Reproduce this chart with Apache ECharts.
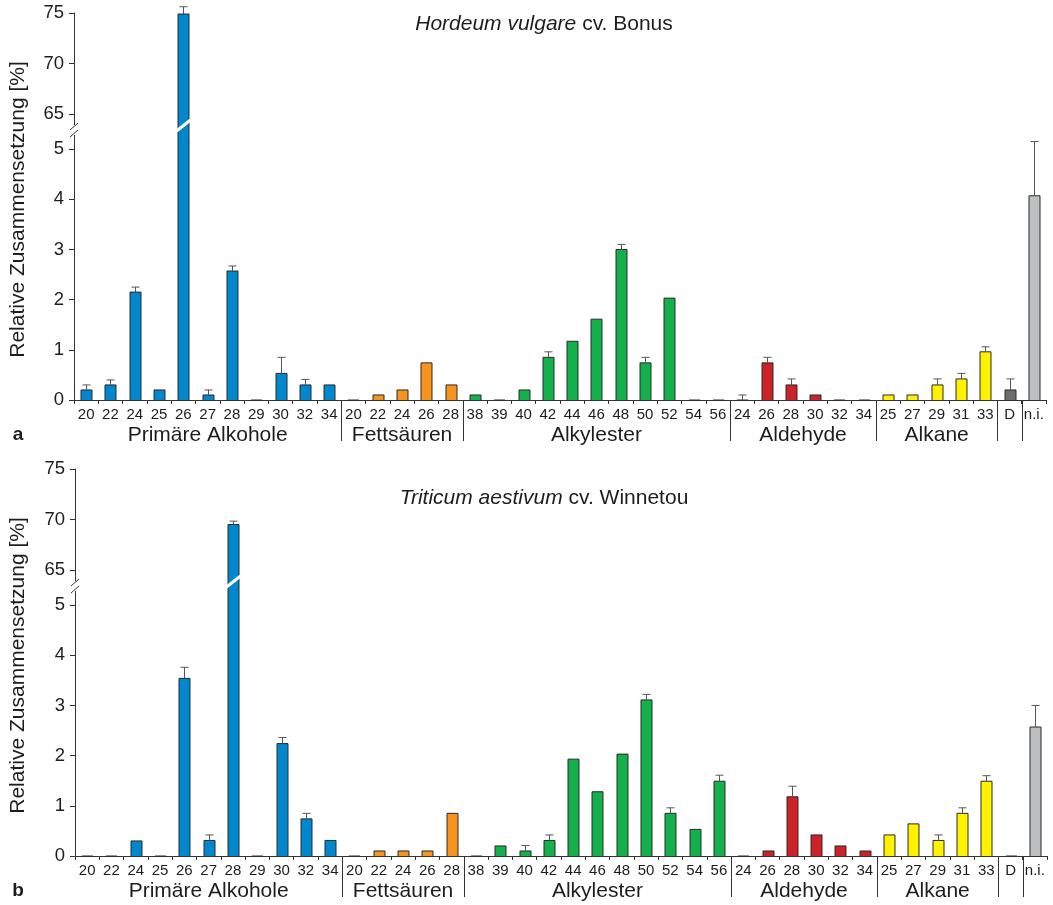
<!DOCTYPE html>
<html><head><meta charset="utf-8">
<script src="https://cdn.jsdelivr.net/npm/echarts@6/dist/echarts.min.js"></script>
<style>html,body{margin:0;padding:0;background:#fff}#c{width:1053px;height:905px}</style>
</head><body><div id="c"></div>
<script>
// ---------- data ----------
const categories = ['20','22','24','25','26','27','28','29','30','32','34',
  '20','22','24','26','28',
  '38','39','40','42','44','46','48','50','52','54','56',
  '24','26','28','30','32','34',
  '25','27','29','31','33',
  'D','n.i.'];
const groupNames = ['Primäre Alkohole','Fettsäuren','Alkylester','Aldehyde','Alkane','',''];
const groupSizes = [11,5,11,6,5,1,1];

const valuesA = [0.2,0.3,2.15,0.2,74.9,0.1,2.57,0,0.53,0.3,0.3,
  0,0.1,0.2,0.74,0.3,
  0.1,0,0.2,0.85,1.17,1.61,3.0,0.74,2.03,0,0,
  0,0.74,0.3,0.1,0,0,
  0.1,0.1,0.3,0.42,0.96,
  0.2,4.07];
const errorsA = [0.1,0.1,0.1,0,0.72,0.1,0.1,0,0.32,0.11,0,
  0,0,0,0,0,
  0,0,0,0.11,0,0,0.1,0.11,0,0,0,
  0.1,0.11,0.12,0,0,0,
  0,0,0.12,0.11,0.1,
  0.22,1.08];
const valuesB = [0,0,0.3,0,3.54,0.31,69.5,0,2.24,0.74,0.31,
  0,0.1,0.1,0.1,0.85,
  0,0.2,0.1,0.31,1.93,1.28,2.03,3.11,0.85,0.53,1.49,
  0,0.1,1.18,0.42,0.2,0.1,
  0.42,0.64,0.31,0.85,1.49,
  0,2.57];
const errorsB = [0,0,0,0,0.22,0.11,0.33,0,0.12,0.11,0,
  0,0,0,0,0,
  0,0,0.11,0.11,0,0,0,0.11,0.11,0,0.12,
  0,0,0.21,0,0,0,
  0,0,0.11,0.11,0.11,
  0,0.43];
const lowerTicks = [0,1,2,3,4,5];
const upperTicks = [65,70,75];
const yAxisName = 'Relative Zusammensetzung [%]';

// ---------- styles / layout ----------
const groupColors = ['#0087cd','#f7941e','#13b04b','#cd2229','#fff200','#6d6e71','#bcbec0'];
const FONT = '"Liberation Sans", Arial, Helvetica, sans-serif';
const TXT = '#1f1c1d';
const AX = '#333333';
const UP_H = 116, LOW_H = 271, PLOT_W = 972;
const UPPER_MIN = 63.5, UPPER_MAX = 75, LOWER_MAX = 5.4;

const catColor = [];
groupSizes.forEach((n, g) => { for (let k = 0; k < n; k++) catColor.push(groupColors[g]); });

const panels = [
  {values: valuesA, errors: errorsA, titleI: 'Hordeum vulgare', titleN: ' cv. Bonus', letter: 'a', left: 74, top: 13, titleY: 24},
  {values: valuesB, errors: errorsB, titleI: 'Triticum aestivum', titleN: ' cv. Winnetou', letter: 'b', left: 75, top: 469, titleY: 498}
];

function makeRender(part) {
  return function (params, api) {
    const i = api.value(0), v = api.value(1), e = api.value(2);
    const cs = params.coordSys;
    const B = cs.y + cs.height;
    const color = catColor[i];
    const cx = Math.round(api.coord([i, 0])[0]) + 0.5;
    const w = 11;
    const L = cx - w / 2, R = cx + w / 2;
    const children = [];
    const stroke = {stroke: '#2a2a2a', lineWidth: 1, fill: null};
    if (part === 'lower') {
      const clipped = v > LOWER_MAX;
      const yTop = clipped ? cs.y : api.coord([i, v])[1];
      const yBot = B;
      children.push({type: 'rect', shape: {x: L, y: yTop, width: w, height: yBot - yTop}, style: {fill: color}});
      if (clipped) {
        children.push({type: 'polyline', shape: {points: [[L, yTop], [L, yBot]]}, style: stroke});
        children.push({type: 'polyline', shape: {points: [[R, yTop], [R, yBot]]}, style: stroke});
      } else {
        children.push({type: 'polyline', shape: {points: [[L, yBot], [L, yTop], [R, yTop], [R, yBot]]}, style: stroke});
        if (e > 0) {
          const ye = api.coord([i, v + e])[1];
          children.push({type: 'line', shape: {x1: cx, y1: yTop, x2: cx, y2: ye}, style: {stroke: '#555', lineWidth: 1}});
          children.push({type: 'line', shape: {x1: cx - 4, y1: ye, x2: cx + 4, y2: ye}, style: {stroke: '#555', lineWidth: 1}});
        }
      }
    } else {
      if (!(v > UPPER_MIN)) return {type: 'group', children: []};
      const yTop = api.coord([i, v])[1];
      children.push({type: 'rect', shape: {x: L, y: yTop, width: w, height: B - yTop}, style: {fill: color}});
      children.push({type: 'polyline', shape: {points: [[L, B], [L, yTop], [R, yTop], [R, B]]}, style: stroke});
      if (e > 0) {
        const ye = api.coord([i, v + e])[1];
        children.push({type: 'line', shape: {x1: cx, y1: yTop, x2: cx, y2: ye}, style: {stroke: '#555', lineWidth: 1}});
        children.push({type: 'line', shape: {x1: cx - 4, y1: ye, x2: cx + 4, y2: ye}, style: {stroke: '#555', lineWidth: 1}});
      }
      // break slash across the bar
      children.push({type: 'line', shape: {x1: L - 1.5, y1: B + 2, x2: R + 1.5, y2: B - 9}, style: {stroke: '#ffffff', lineWidth: 3}});
    }
    return {type: 'group', children: children};
  };
}

const grid = [], xAxis = [], yAxis = [], series = [], graphic = [];
panels.forEach((p, k) => {
  const upTop = p.top, lowTop = p.top + UP_H, base = lowTop + LOW_H;
  grid.push({left: p.left, top: upTop, width: PLOT_W, height: UP_H});
  grid.push({left: p.left, top: lowTop, width: PLOT_W, height: LOW_H});
  xAxis.push({type: 'category', gridIndex: 2 * k, data: categories, show: false});
  xAxis.push({type: 'category', gridIndex: 2 * k + 1, data: categories,
    axisLine: {lineStyle: {color: AX, width: 1}},
    axisTick: {show: true, length: 4, interval: 0, lineStyle: {color: AX}},
    axisLabel: {interval: 0, fontSize: 15, color: TXT, fontFamily: FONT, margin: 7}});
  yAxis.push({type: 'value', gridIndex: 2 * k, min: UPPER_MIN, max: UPPER_MAX,
    splitLine: {show: false},
    axisLine: {show: true, lineStyle: {color: AX}},
    axisTick: {show: true, length: 5, customValues: upperTicks, lineStyle: {color: AX}},
    axisLabel: {customValues: upperTicks, fontSize: 18.5, color: TXT, fontFamily: FONT, margin: 10}});
  yAxis.push({type: 'value', gridIndex: 2 * k + 1, min: 0, max: LOWER_MAX,
    splitLine: {show: false},
    axisLine: {show: true, lineStyle: {color: AX}},
    axisTick: {show: true, length: 5, customValues: lowerTicks, lineStyle: {color: AX}},
    axisLabel: {customValues: lowerTicks, fontSize: 18.5, color: TXT, fontFamily: FONT, margin: 10}});
  const data = categories.map((c, i) => [i, p.values[i], p.errors[i]]);
  series.push({type: 'custom', xAxisIndex: 2 * k + 1, yAxisIndex: 2 * k + 1, data: data,
    encode: {x: 0, y: 1}, renderItem: makeRender('lower'), silent: true, z: 2});
  series.push({type: 'custom', xAxisIndex: 2 * k, yAxisIndex: 2 * k, data: data,
    encode: {x: 0, y: 1}, renderItem: makeRender('upper'), silent: true, z: 3});

  // titles, letters, axis name
  graphic.push({type: 'text', x: 544, y: p.titleY, style: {
    text: '{i|' + p.titleI + '}' + p.titleN, font: '21px ' + FONT, fill: TXT,
    align: 'center', verticalAlign: 'middle',
    rich: {i: {fontStyle: 'italic', fontSize: 21, fontFamily: FONT, fill: TXT}}}});
  graphic.push({type: 'text', x: 18, y: base + 35, style: {text: p.letter, font: 'bold 19px ' + FONT, fill: TXT, align: 'center', verticalAlign: 'middle'}});
  graphic.push({type: 'text', x: 18, y: (upTop + base) / 2 + 3, rotation: Math.PI / 2,
    style: {text: yAxisName, font: '21px ' + FONT, fill: TXT, align: 'center', verticalAlign: 'middle'}});

  // axis break marks
  const ax = p.left, B = lowTop;
  graphic.push({type: 'rect', z: 50, shape: {x: ax - 3, y: B - 4, width: 6, height: 10}, style: {fill: '#fff'}});
  graphic.push({type: 'line', z: 51, shape: {x1: ax - 4, y1: B + 1, x2: ax + 4, y2: B - 6}, style: {stroke: AX, lineWidth: 1}});
  graphic.push({type: 'line', z: 51, shape: {x1: ax - 4, y1: B + 8, x2: ax + 4, y2: B + 1}, style: {stroke: AX, lineWidth: 1}});

  // group separators and labels
  const slot = PLOT_W / categories.length;
  let idx = 0;
  groupSizes.forEach((n, g) => {
    const x0 = p.left + idx * slot, x1 = p.left + (idx + n) * slot;
    if (groupNames[g]) {
      graphic.push({type: 'text', x: (x0 + x1) / 2, y: base + 35, style: {text: groupNames[g], font: '21px ' + FONT, fill: TXT, align: 'center', verticalAlign: 'middle'}});
    }
    idx += n;
    if (idx < categories.length) {
      const xs = Math.round(x1) + 0.5;
      graphic.push({type: 'line', shape: {x1: xs, y1: base, x2: xs, y2: base + 41}, style: {stroke: AX, lineWidth: 1}});
    }
  });
});

const chart = echarts.init(document.getElementById('c'), null, {renderer: 'canvas'});
chart.setOption({animation: false, backgroundColor: '#ffffff', grid, xAxis, yAxis, series, graphic});
</script></body></html>
